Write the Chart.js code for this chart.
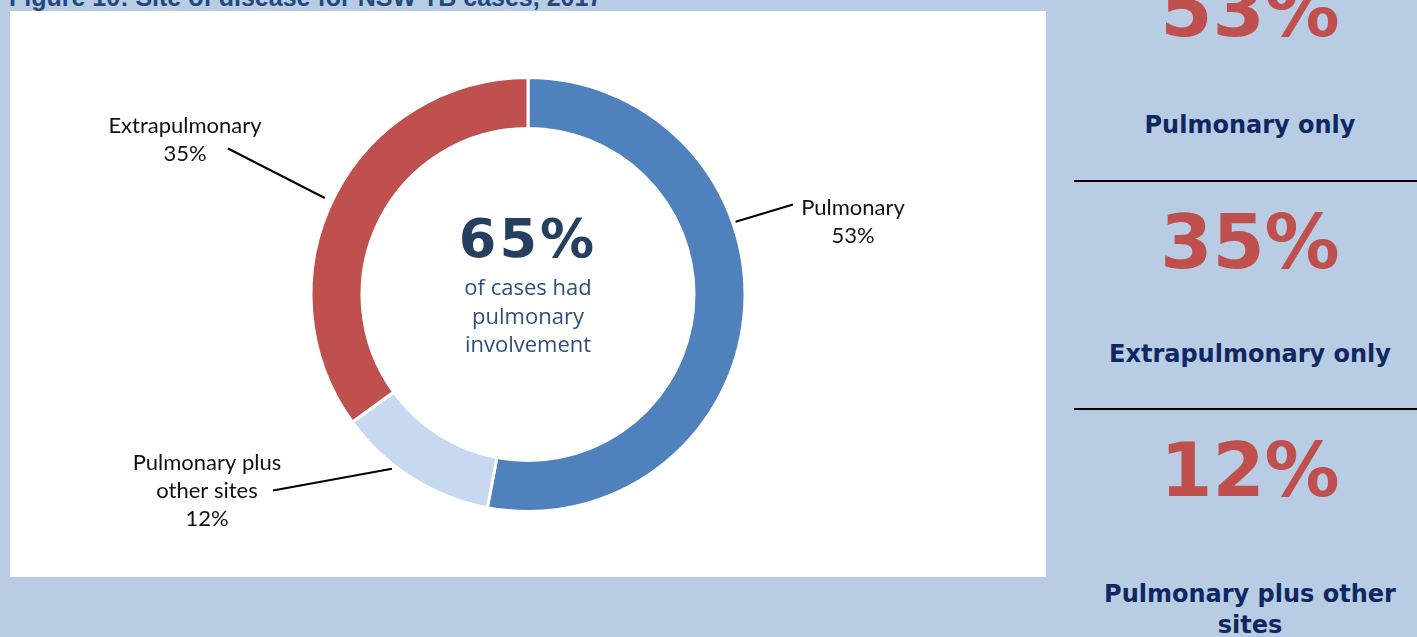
<!DOCTYPE html>
<html>
<head>
<meta charset="utf-8">
<script src="https://cdn.jsdelivr.net/npm/chart.js@4/dist/chart.umd.min.js"></script>
<style>
  html, body { margin: 0; padding: 0; }
  body {
    width: 1417px; height: 637px; overflow: hidden; position: relative;
    background: #b8cce4; font-family: "Liberation Sans", Arial, sans-serif;
  }
  #title {
    position: absolute; left: 9px; top: -18px; margin: 0;
    font: bold 25px "Liberation Sans", Arial, sans-serif; color: #244a7c;
    line-height: 30px; white-space: nowrap;
  }
  #box {
    position: absolute; left: 10px; top: 11px; width: 1036px; height: 566px;
    background: #fff;
  }
  #box canvas { position: absolute; left: 0; top: 0; }
  #centre {
    position: absolute; left: 408px; width: 220px; top: 198px;
    text-align: center; color: #2f4f7a;
    font-family: "Open Sans", sans-serif; font-size: 22px; line-height: 28.5px;
  }
  #centre .big {
    font: bold 54px "DejaVu Sans", sans-serif; color: #243f60;
    letter-spacing: 3px; line-height: 60px; margin-bottom: 3px;
  }
  .rule { position: absolute; left: 1074px; right: 0; height: 2px; background: #000; }
  .num {
    position: absolute; left: 1083px; width: 334px; text-align: center;
    font: bold 75px "DejaVu Sans", sans-serif; color: #c0504d; line-height: 75px;
  }
  .cap {
    position: absolute; left: 1083px; width: 334px; text-align: center;
    font: bold 24px "DejaVu Sans", sans-serif; color: #0f2862; line-height: 31px;
  }
</style>
</head>
<body>
<div id="title">Figure 10: Site of disease for NSW TB cases, 2017</div>
<div id="box">
  <canvas id="siteChart" width="1036" height="566"></canvas>
  <div id="centre">
    <div class="big" id="centreNum"></div>
    <div>of cases had<br>pulmonary<br>involvement</div>
  </div>
</div>
<div id="panel"></div>

<script>
// Data
const categories = ['Pulmonary', ['Pulmonary plus', 'other sites'], 'Extrapulmonary'];
const percents = [53, 12, 35];
const sliceColours = ['#4f81bd', '#c6d9f1', '#c0504d'];
const pulmonaryInvolvement = 65;
const panelCaptions = ['Pulmonary only', 'Extrapulmonary only', 'Pulmonary plus other sites'];
const panelValues = [53, 35, 12];

document.getElementById('centreNum').textContent = pulmonaryInvolvement + '%';

// Side panel
const panel = document.getElementById('panel');
const panelTops = [-27, 205, 433];
const capTops = [110, 339, 579];
panelValues.forEach((v, i) => {
    const n = document.createElement('div');
    n.className = 'num';
    n.style.top = panelTops[i] + 'px';
    n.textContent = v + '%';
    panel.appendChild(n);
    const c = document.createElement('div');
    c.className = 'cap';
    c.style.top = capTops[i] + 'px';
    c.textContent = panelCaptions[i];
    panel.appendChild(c);
});
[180, 408].forEach(y => {
    const r = document.createElement('div');
    r.className = 'rule';
    r.style.top = y + 'px';
    panel.appendChild(r);
});

// Leader lines + labels, placed relative to the doughnut centre
// angle: degrees clockwise from top where the line leaves the ring
const labelLayout = [
    { angle: 70.7, gap: 3, end: [265, -90], text: [325, -80] },
    { angle: 218, gap: 4, end: [-255, 196], text: [-321, 175] },
    { angle: 295.4, gap: 8, end: [-300, -146], text: [-343, -162] }
];

const calloutPlugin = {
    id: 'callouts',
    afterDatasetsDraw(chart) {
        const ctx = chart.ctx;
        const arcs = chart.getDatasetMeta(0).data;
        ctx.save();
        arcs.forEach((arc, i) => {
            const lay = labelLayout[i];
            const cx = arc.x, cy = arc.y;
            const a = lay.angle * Math.PI / 180;
            const r = arc.outerRadius + lay.gap;
            ctx.beginPath();
            ctx.moveTo(cx + r * Math.sin(a), cy - r * Math.cos(a));
            ctx.lineTo(cx + lay.end[0], cy + lay.end[1]);
            ctx.lineWidth = 2;
            ctx.strokeStyle = '#000';
            ctx.stroke();

            const name = chart.data.labels[i];
            const lines = (Array.isArray(name) ? name : [name]).concat(percents[i] + '%');
            ctx.fillStyle = '#111';
            ctx.font = '22px Lato, sans-serif';
            ctx.textAlign = 'center';
            ctx.textBaseline = 'alphabetic';
            lines.forEach((t, k) => {
                ctx.fillText(t, cx + lay.text[0], cy + lay.text[1] + k * 28);
            });
        });
        ctx.restore();
    }
};

new Chart(document.getElementById('siteChart'), {
    type: 'doughnut',
    data: {
        labels: categories,
        datasets: [{
            data: percents,
            backgroundColor: sliceColours,
            borderColor: '#fff',
            borderWidth: 3
        }]
    },
    options: {
        responsive: false,
        animation: false,
        cutout: '76.5%',
        layout: { padding: { top: 65, bottom: 64 } },
        plugins: {
            legend: { display: false },
            tooltip: { enabled: false }
        }
    },
    plugins: [calloutPlugin]
});
</script>
</body>
</html>
